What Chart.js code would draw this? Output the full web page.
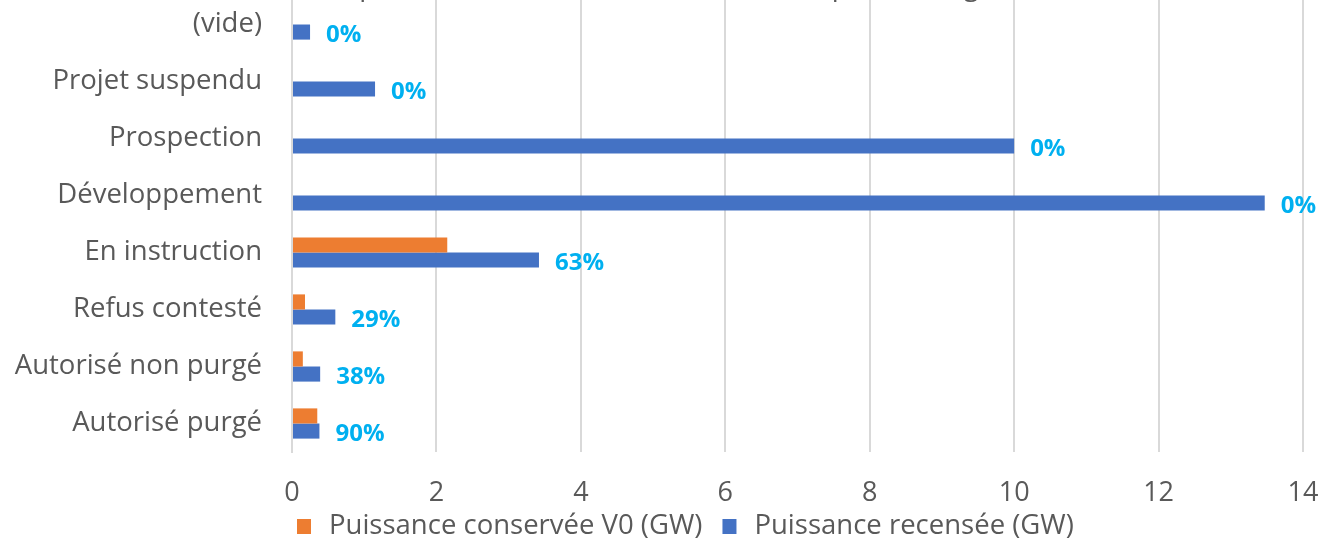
<!DOCTYPE html>
<html lang="fr">
<head>
<meta charset="utf-8">
<script src="https://cdn.jsdelivr.net/npm/chart.js@4/dist/chart.umd.min.js"></script>
<style>
  html, body { margin: 0; padding: 0; background: #fff; overflow: hidden; }
  #wrap { position: absolute; left: 0; top: -60px; width: 1327px; height: 602px; }
</style>
</head>
<body>
<div id="wrap"><canvas id="chart"></canvas></div>
<script>
// Données du graphique
const statuts = ['(vide)', 'Projet suspendu', 'Prospection', 'Développement', 'En instruction', 'Refus contesté', 'Autorisé non purgé', 'Autorisé purgé'];
const puissanceConservee = [0, 0, 0, 0, 2.15, 0.18, 0.15, 0.35];
const puissanceRecensee = [0.25, 1.15, 10.0, 13.47, 3.42, 0.6, 0.39, 0.38];
const pourcentages = ['0%', '0%', '0%', '0%', '63%', '29%', '38%', '90%'];
const xTicks = [0, 2, 4, 6, 8, 10, 12, 14];
const titre = 'Comparatif total (en GW) et taux (taux en pourcentage)';

const FONT = '"Open Sans", sans-serif';
const GRIS = '#595959';

// Étiquettes de pourcentage à droite des barres bleues
const labelPlugin = {
	id: 'pctLabels',
	afterDatasetsDraw(chart) {
		const ctx = chart.ctx;
		const meta = chart.getDatasetMeta(1);
		ctx.save();
		ctx.font = 'bold 24px ' + FONT;
		ctx.fillStyle = '#00B0F0';
		ctx.textBaseline = 'middle';
		ctx.textAlign = 'left';
		meta.data.forEach((bar, i) => {
			ctx.fillText(pourcentages[i], bar.x + 16, bar.y + 3);
		});
		ctx.restore();
	}
};

// Titre rogné en haut + légende dessinée à la main
const extrasPlugin = {
	id: 'extras',
	afterDraw(chart) {
		const ctx = chart.ctx;
		ctx.save();
		ctx.font = '27.5px ' + FONT;
		ctx.fillStyle = GRIS;
		ctx.textAlign = 'left';
		ctx.textBaseline = 'alphabetic';
		ctx.fillText(titre, 300, 55);

		// légende
		ctx.font = '27.5px ' + FONT;
		ctx.textBaseline = 'middle';
		const y = chart.height - 16;
		let x = 297;
		chart.data.datasets.forEach(ds => {
			ctx.fillStyle = ds.backgroundColor;
			ctx.fillRect(x, y - 7, 14, 15);
			x += 32;
			ctx.fillStyle = GRIS;
			ctx.fillText(ds.label, x, y);
			x += ctx.measureText(ds.label).width + 20;
		});
		ctx.restore();
	}
};

new Chart(document.getElementById('chart'), {
	type: 'bar',
	data: {
		labels: statuts,
		datasets: [
			{
				label: 'Puissance conservée V0 (GW)',
				data: puissanceConservee,
				backgroundColor: '#ED7D31',
				barPercentage: 1,
				categoryPercentage: 0.53
			},
			{
				label: 'Puissance recensée (GW)',
				data: puissanceRecensee,
				backgroundColor: '#4472C4',
				barPercentage: 1,
				categoryPercentage: 0.53
			}
		]
	},
	options: {
		indexAxis: 'y',
		responsive: true,
		maintainAspectRatio: false,
		animation: false,
		layout: { padding: { top: 56, right: 24, left: 0, bottom: 30 } },
		plugins: {
			legend: { display: false },
			tooltip: { enabled: false },
			title: { display: false }
		},
		scales: {
			x: {
				min: 0,
				max: 14,
				afterBuildTicks: s => { s.ticks = xTicks.map(v => ({ value: v })); },
				afterFit: s => { s.height = 60; s.paddingLeft = 0; s.paddingRight = 0; },
				grid: { color: '#D9D9D9', lineWidth: 2, drawTicks: false },
				border: { display: false },
				ticks: { color: GRIS, font: { family: FONT, size: 27 }, padding: 25 }
			},
			y: {
				afterFit: s => { s.width = 292; s.paddingTop = 0; s.paddingBottom = 0; },
				grid: { display: false, drawTicks: false },
				border: { display: true, color: '#D9D9D9', width: 2 },
				ticks: { color: GRIS, font: { family: FONT, size: 27.5 }, padding: 30 }
			}
		}
	},
	plugins: [labelPlugin, extrasPlugin]
});
</script>
</body>
</html>
